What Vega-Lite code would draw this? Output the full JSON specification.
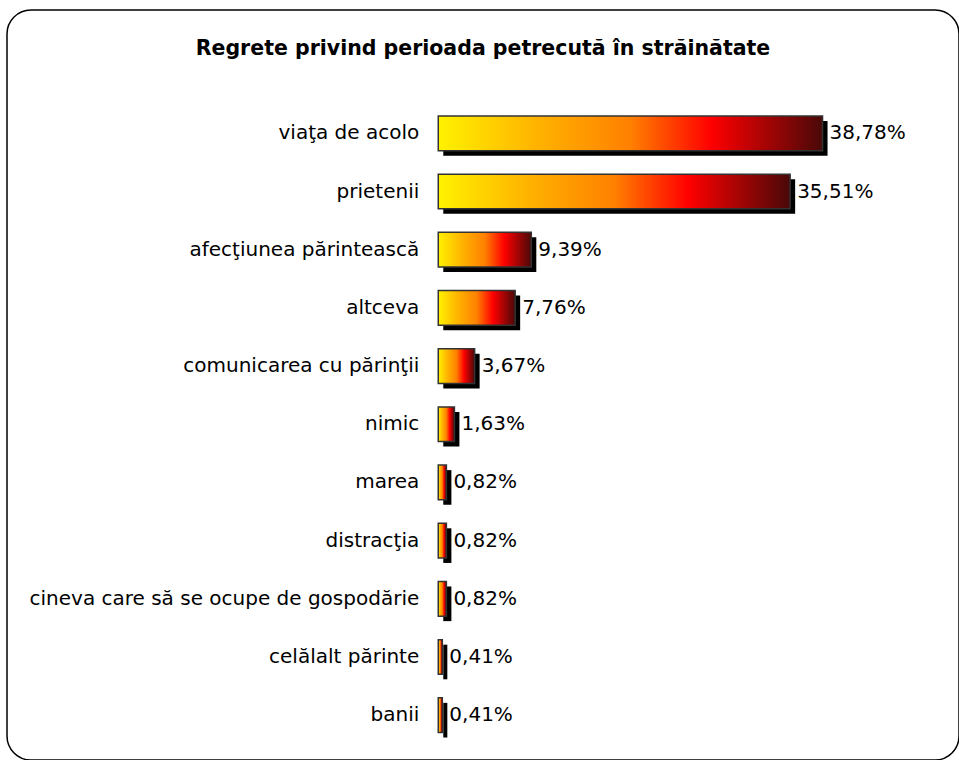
{
  "$schema": "https://vega.github.io/schema/vega-lite/v6.json",
  "autosize": "none",
  "width": 952,
  "height": 750,
  "padding": {"left": 7, "top": 10, "right": 0, "bottom": 0},
  "background": "white",
  "config": {
    "view": {"stroke": "black", "strokeWidth": 1.5, "cornerRadius": 24, "fill": "white"},
    "font": "DejaVu Sans"
  },
  "title": {
    "text": "Regrete privind perioada petrecută în străinătate",
    "font": "DejaVu Sans",
    "fontSize": 20.5,
    "fontWeight": "bold",
    "color": "black",
    "anchor": "middle",
    "frame": "group",
    "offset": -49
  },
  "data": {
    "values": [
      {"cat": "viaţa de acolo", "pct": 38.78, "label": "38,78%"},
      {"cat": "prietenii", "pct": 35.51, "label": "35,51%"},
      {"cat": "afecţiunea părintească", "pct": 9.39, "label": "9,39%"},
      {"cat": "altceva", "pct": 7.76, "label": "7,76%"},
      {"cat": "comunicarea cu părinţii", "pct": 3.67, "label": "3,67%"},
      {"cat": "nimic", "pct": 1.63, "label": "1,63%"},
      {"cat": "marea", "pct": 0.82, "label": "0,82%"},
      {"cat": "distracţia", "pct": 0.82, "label": "0,82%"},
      {"cat": "cineva care să se ocupe de gospodărie", "pct": 0.82, "label": "0,82%"},
      {"cat": "celălalt părinte", "pct": 0.41, "label": "0,41%"},
      {"cat": "banii", "pct": 0.41, "label": "0,41%"}
    ]
  },
  "encoding": {
    "y": {
      "field": "cat",
      "type": "nominal",
      "sort": null,
      "axis": null,
      "scale": {"range": [106, 722.5], "paddingInner": 0.4045, "paddingOuter": 0}
    }
  },
  "layer": [
    {
      "mark": {"type": "bar", "color": "black", "xOffset": 5, "yOffset": 5},
      "encoding": {
        "x": {"field": "pct", "type": "quantitative", "axis": null, "scale": {"domain": [-43.52, 52.55], "nice": false, "zero": false}}
      }
    },
    {
      "mark": {
        "type": "bar",
        "stroke": "#333333",
        "strokeWidth": 1.5,
        "fill": {
          "gradient": "linear",
          "x1": 0, "y1": 0, "x2": 1, "y2": 0,
          "stops": [
            {"offset": 0, "color": "#fff200"},
            {"offset": 0.25, "color": "#ffb400"},
            {"offset": 0.5, "color": "#ff8000"},
            {"offset": 0.71, "color": "#ff0000"},
            {"offset": 1, "color": "#4a0808"}
          ]
        }
      },
      "encoding": {
        "x": {"field": "pct", "type": "quantitative"}
      }
    },
    {
      "mark": {"type": "text", "align": "left", "baseline": "middle", "dx": 7, "fontSize": 20, "color": "black"},
      "encoding": {
        "x": {"field": "pct", "type": "quantitative"},
        "text": {"field": "label"}
      }
    },
    {
      "mark": {"type": "text", "align": "right", "baseline": "middle", "dx": -19, "fontSize": 20, "color": "black"},
      "encoding": {
        "x": {"datum": 0, "type": "quantitative"},
        "text": {"field": "cat"}
      }
    }
  ]
}
